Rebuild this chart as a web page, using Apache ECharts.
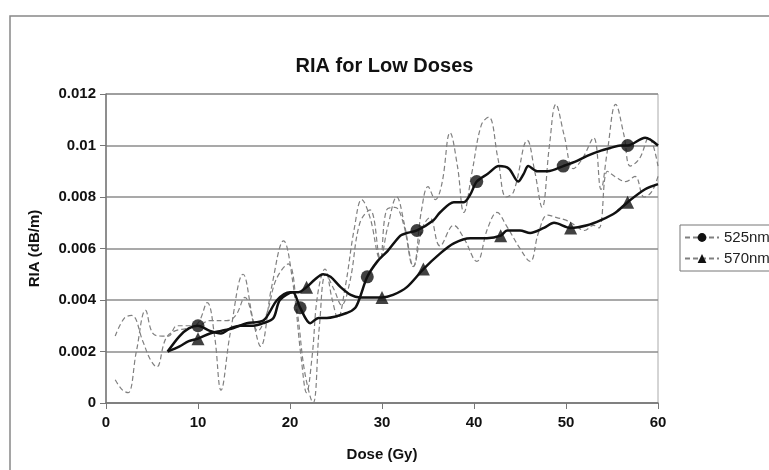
<!DOCTYPE html>
<html>
<head>
<meta charset="utf-8">
<script src="https://cdn.jsdelivr.net/npm/echarts@6/dist/echarts.min.js"></script>
<style>
  html, body { margin: 0; padding: 0; background: #fff; }
  #chart { width: 769px; height: 470px; }
</style>
</head>
<body>
<div id="chart"></div>
<script>
// dose ticks and RIA tick labels
const xTicks = [0, 10, 20, 30, 40, 50, 60];
const yTickLabels = ['0', '0.002', '0.004', '0.006', '0.008', '0.01', '0.012'];

// raw (dashed) 525nm
const raw525X = [1, 2, 2.8, 4, 4.8, 5.5, 6.5, 7.5, 8.8, 10, 11, 11.8, 12.5, 13.5, 14.9, 16, 16.8, 18, 19.3, 20.3, 21.2, 21.8, 22.4, 23, 23.8, 24.6, 25.2, 26, 27, 27.8, 28.7, 29.8, 30.6, 31.6, 32.4, 33.4, 34.3, 35, 35.8, 36.5, 37.4, 38.2, 38.9, 39.8, 40.8, 41.6, 42.6, 43.5, 44.3, 45.8, 46.6, 47.4, 48.2, 48.9, 49.8, 50.8, 51.8, 53, 53.8, 54.5, 55.4, 56.3, 57, 58, 59, 60];
const raw525Y = [0.0026, 0.0033, 0.0034, 0.0024, 0.0017, 0.0014, 0.0025, 0.0028, 0.0029, 0.0031, 0.0039, 0.0026, 0.0005, 0.0027, 0.0050, 0.0032, 0.0022, 0.0045, 0.0063, 0.0047, 0.0018, 0.0004, 0.0018, 0.0042, 0.0052, 0.0040, 0.0033, 0.0045, 0.0068, 0.0079, 0.0072, 0.0056, 0.0068, 0.0080, 0.0070, 0.0053, 0.0075, 0.0084, 0.0079, 0.0085, 0.0105, 0.0092, 0.0074, 0.0090, 0.0108, 0.0111, 0.0095, 0.0080, 0.0082, 0.0102, 0.0090, 0.0076, 0.0100, 0.0116, 0.0104, 0.0091, 0.0095, 0.0103, 0.0083, 0.0098, 0.0116, 0.0104, 0.0092, 0.0095, 0.0103, 0.0092];

// raw (dashed) 570nm
const raw570X = [1, 1.8, 2.4, 3.3, 4.3, 5.1, 6.1, 6.8, 7.7, 8.8, 9.9, 11.3, 13.1, 14.1, 15.1, 16.5, 17.5, 18.5, 19.8, 20.8, 21.6, 22.5, 23.2, 23.9, 24.8, 25.6, 26.5, 27.6, 28.7, 29.8, 30.5, 31.4, 32.3, 33.4, 34.4, 35.2, 36.3, 37.8, 38.9, 40.3, 41.5, 42.5, 43.5, 45, 46.1, 47, 48, 49, 50, 51, 52, 53, 53.6, 54.5, 55.3, 56.5, 57.5, 58.5, 59.3, 60];
const raw570Y = [0.0009, 0.0005, 0.0004, 0.0020, 0.0036, 0.0027, 0.0026, 0.0026, 0.0030, 0.0030, 0.0030, 0.0032, 0.0032, 0.0034, 0.0041, 0.0028, 0.0035, 0.0048, 0.0054, 0.0035, 0.0012, 0.0000, 0.0030, 0.0050, 0.0044, 0.0038, 0.0047, 0.0070, 0.0075, 0.0056, 0.0075, 0.0076, 0.0070, 0.0053, 0.0068, 0.0072, 0.0061, 0.0069, 0.0064, 0.0055, 0.0068, 0.0074, 0.0069, 0.0060, 0.0055, 0.0066, 0.0073, 0.0072, 0.0071, 0.0069, 0.0067, 0.0069, 0.0068, 0.0090, 0.0088, 0.0086, 0.0088, 0.0080, 0.0082, 0.0088];

// smoothed (solid) 525nm
const fit525X = [6.7, 8, 9, 10, 11.3, 12.5, 13.5, 14.6, 16, 17.1, 18.2, 18.9, 20.3, 21.1, 22.2, 23.1, 24, 26.2, 27.1, 27.6, 28.4, 29.5, 30.6, 32, 32.7, 33.8, 35.6, 36.3, 37.8, 38.9, 39.6, 40.3, 41.5, 42.7, 43.8, 44.8, 45.4, 45.9, 46.9, 48, 49.7, 51.2, 52.3, 53.8, 54.8, 55.9, 56.7, 58.6, 60];
const fit525Y = [0.0020, 0.0026, 0.0029, 0.0030, 0.0028, 0.0027, 0.0029, 0.0030, 0.0030, 0.0031, 0.0033, 0.0040, 0.0043, 0.0037, 0.0031, 0.0033, 0.0033, 0.0035, 0.0037, 0.0041, 0.0049, 0.0055, 0.0059, 0.0065, 0.0066, 0.0067, 0.0071, 0.0074, 0.0078, 0.0078, 0.0081, 0.0086, 0.0089, 0.0092, 0.0091, 0.0086, 0.0089, 0.0092, 0.0090, 0.0090, 0.0092, 0.0094, 0.0096, 0.0098, 0.0099, 0.0100, 0.0100, 0.0103, 0.0100];

// smoothed (solid) 570nm
const fit570X = [6.7, 8, 9, 10, 11.3, 12.5, 13.8, 15.3, 17.1, 18.6, 20, 20.9, 21.8, 22.7, 23.6, 24.4, 25.5, 26.6, 27.6, 29, 30, 31.2, 32.7, 34.5, 36.3, 37.8, 39.6, 41.4, 42.9, 43.6, 45, 46.1, 47.6, 48.7, 50.5, 52.3, 53.8, 55.4, 56.7, 58.6, 60];
const fit570Y = [0.0020, 0.0022, 0.0024, 0.0025, 0.0027, 0.0028, 0.0029, 0.0031, 0.0032, 0.0040, 0.0043, 0.0043, 0.0045, 0.0048, 0.0050, 0.0049, 0.0045, 0.0042, 0.0041, 0.0041, 0.0041, 0.0042, 0.0045, 0.0052, 0.0058, 0.0062, 0.0064, 0.0064, 0.0065, 0.0067, 0.0067, 0.0066, 0.0068, 0.0070, 0.0068, 0.0069, 0.0071, 0.0074, 0.0078, 0.0083, 0.0085];

// marker points
const mark525X = [10, 21.1, 28.4, 33.8, 40.3, 49.7, 56.7];
const mark525Y = [0.0030, 0.0037, 0.0049, 0.0067, 0.0086, 0.0092, 0.0100];
const mark570X = [10, 21.8, 30, 34.5, 42.9, 50.5, 56.7];
const mark570Y = [0.0025, 0.0045, 0.0041, 0.0052, 0.0065, 0.0068, 0.0078];

const zip = (xs, ys) => xs.map((x, i) => [x, ys[i]]);

const chart = echarts.init(document.getElementById('chart'));

const option = {
  backgroundColor: '#fff',
  animation: false,
  title: {
    text: 'RIA for Low Doses',
    left: 'center',
    top: 51,
    textStyle: { fontFamily: 'Liberation Sans', fontSize: 20, fontWeight: 'bold', color: '#111' }
  },
  legend: {
    orient: 'vertical',
    left: 680,
    top: 225,
    padding: [5, 6, 5, 4],
    itemGap: 6,
    itemWidth: 34,
    itemHeight: 11,
    borderColor: '#777',
    borderWidth: 1,
    textStyle: { fontFamily: 'Liberation Sans', fontSize: 15, color: '#222' },
    data: ['525nm', '570nm']
  },
  grid: {
    left: 106, top: 94, right: 111, bottom: 67,
    show: true, borderColor: '#aaa', borderWidth: 1
  },
  xAxis: {
    type: 'value',
    min: 0, max: 60, interval: 10,
    name: 'Dose (Gy)',
    nameLocation: 'middle',
    nameGap: 44,
    nameTextStyle: { fontFamily: 'Liberation Sans', fontSize: 15, fontWeight: 'bold', color: '#111' },
    axisLine: { lineStyle: { color: '#777', width: 1.5 } },
    axisTick: { length: 6, lineStyle: { color: '#777' } },
    axisLabel: {
      margin: 12,
      fontFamily: 'Liberation Sans', fontSize: 15, fontWeight: 'bold', color: '#111',
      formatter: v => String(xTicks[Math.round(v / 10)])
    },
    splitLine: { show: false }
  },
  yAxis: {
    type: 'value',
    min: 0, max: 0.012, interval: 0.002,
    name: 'RIA (dB/m)',
    nameLocation: 'middle',
    nameGap: 64,
    nameTextStyle: { fontFamily: 'Liberation Sans', fontSize: 15, fontWeight: 'bold', color: '#111' },
    axisLine: { show: true, lineStyle: { color: '#777', width: 1.5 } },
    axisTick: { show: true, length: 6, lineStyle: { color: '#777' } },
    axisLabel: {
      margin: 10,
      fontFamily: 'Liberation Sans', fontSize: 15, fontWeight: 'bold', color: '#111',
      formatter: v => yTickLabels[Math.round(v / 0.002)]
    },
    splitLine: { lineStyle: { color: '#8c8c8c', width: 1.5 } }
  },
  graphic: [
    {
      type: 'rect',
      shape: { x: 10, y: 16, width: 800, height: 500 },
      style: { fill: 'none', stroke: '#888', lineWidth: 1.5 },
      silent: true
    }
  ],
  series: [
    {
      name: '525nm',
      type: 'line',
      smooth: 0.4,
      symbol: 'circle',
      symbolSize: 10,
      showSymbol: false,
      itemStyle: { color: '#111' },
      lineStyle: { color: '#808080', width: 1.2, type: [5, 3] },
      data: zip(raw525X, raw525Y)
    },
    {
      name: '570nm',
      type: 'line',
      smooth: 0.4,
      symbol: 'triangle',
      symbolSize: 10,
      showSymbol: false,
      itemStyle: { color: '#111' },
      lineStyle: { color: '#808080', width: 1.2, type: [5, 3] },
      data: zip(raw570X, raw570Y)
    },
    {
      name: 'fit525',
      type: 'line',
      smooth: 0.3,
      showSymbol: false,
      lineStyle: { color: '#111', width: 2.5 },
      data: zip(fit525X, fit525Y)
    },
    {
      name: 'fit570',
      type: 'line',
      smooth: 0.3,
      showSymbol: false,
      lineStyle: { color: '#111', width: 2.5 },
      data: zip(fit570X, fit570Y)
    },
    {
      name: 'mark525',
      type: 'scatter',
      symbol: 'circle',
      symbolSize: 13,
      itemStyle: { color: '#111' },
      z: 5,
      data: zip(mark525X, mark525Y)
    },
    {
      name: 'mark570',
      type: 'scatter',
      symbol: 'triangle',
      symbolSize: 13,
      itemStyle: { color: '#111' },
      z: 5,
      data: zip(mark570X, mark570Y)
    }
  ]
};

chart.setOption(option);
</script>
</body>
</html>
